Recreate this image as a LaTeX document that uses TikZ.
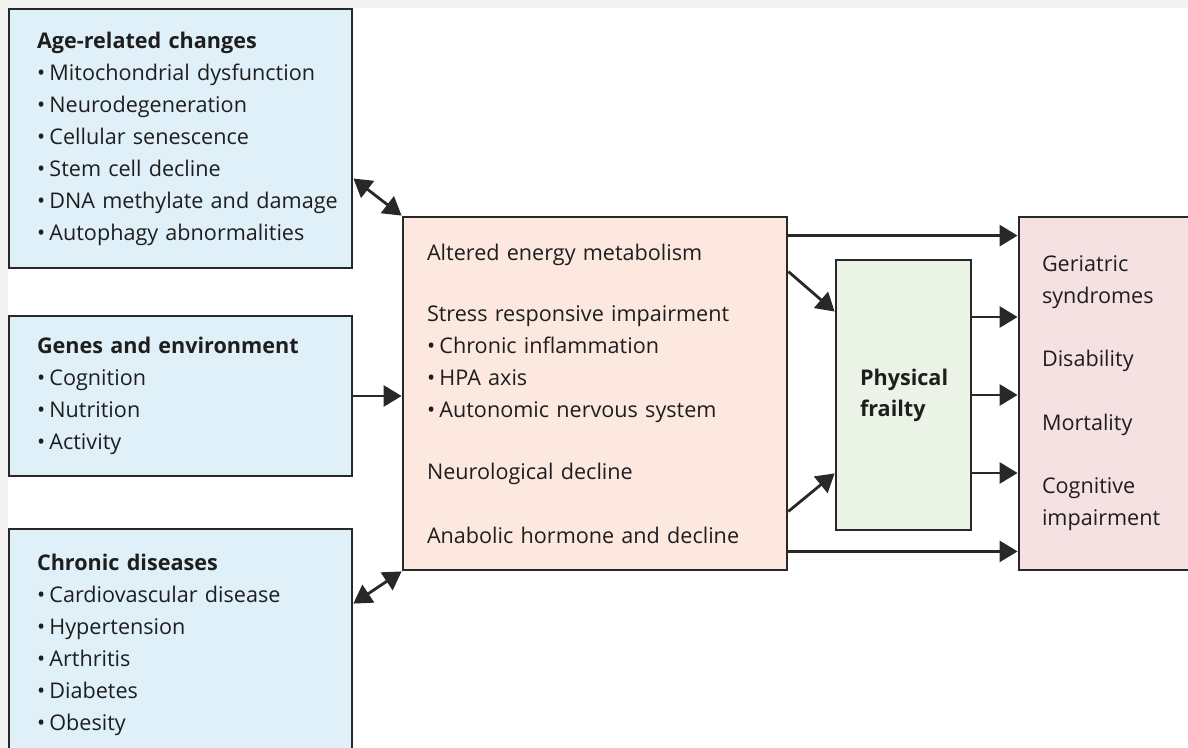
\documentclass[tikz,border=0pt]{standalone}
\usepackage{fontspec}
\setmainfont{Open Sans}
\usepackage{tikz}
\usetikzlibrary{arrows.meta}
\definecolor{bgGray}{RGB}{242,242,242}
\definecolor{lineGray}{RGB}{40,40,40}
\definecolor{textBlack}{RGB}{30,30,30}
\definecolor{causeBlue}{RGB}{223,240,248}
\definecolor{mechPeach}{RGB}{252,232,222}
\definecolor{frailGreen}{RGB}{234,243,230}
\definecolor{outcomePink}{RGB}{245,224,226}
\newcommand{\itm}{\textbullet\hspace{0.2em}}
\tikzset{
     boxNode/.style =
        { draw=lineGray
        , line width=1.4pt
        , align=left
        , inner ysep=0pt
        , text=textBlack
        , font=\fontsize{10.8}{16}\selectfont
        },
     causeNode/.style =
        { boxNode
        , fill=causeBlue
        , inner xsep=7pt
        , text width=157.5pt
        , minimum width=171.5pt
        , execute at begin node={\leftskip=7pt}
        }
}

\begin{document}
\begin{tikzpicture}
            [ x=0.5pt
            , y=-0.5pt
            , >={Triangle[length=9pt,width=10.5pt]}
            , line width=1.4pt
            , draw=lineGray
            ]
            \clip (0,0) rectangle (1188,748);
            \fill[bgGray] (0,0) rectangle (1188,748);
            \fill[white] (8,8) rectangle (1188,748);

            % causes
            \node[causeNode, minimum height=129.5pt] (age) at (180.5,138.5)
                {\textbf{Age-related changes}\\
                 \itm Mitochondrial dysfunction\\
                 \itm Neurodegeneration\\
                 \itm Cellular senescence\\
                 \itm Stem cell decline\\
                 \itm DNA methylate and damage\\
                 \itm Autophagy abnormalities};
            \node[causeNode, minimum height=80pt] (genes) at (180.5,396)
                {\textbf{Genes and environment}\\
                 \itm Cognition\\
                 \itm Nutrition\\
                 \itm Activity};
            \node[causeNode, minimum height=116pt] (chronic) at (180.5,645)
                {\textbf{Chronic diseases}\\
                 \itm Cardiovascular disease\\
                 \itm Hypertension\\
                 \itm Arthritis\\
                 \itm Diabetes\\
                 \itm Obesity};

            % mechanisms
            \node[boxNode, fill=mechPeach, inner xsep=12pt, text width=168pt,
                  minimum height=176.5pt] (mech) at (595,393.5)
                {Altered energy metabolism\\[14.5pt]
                 Stress responsive impairment\\
                 \itm Chronic inflammation\\
                 \itm HPA axis\\
                 \itm Autonomic nervous system\\[15pt]
                 Neurological decline\\[16pt]
                 Anabolic hormone and decline};

            \node[boxNode, fill=frailGreen, inner xsep=12pt, text width=43.5pt,
                  minimum height=135pt, font=\fontsize{10.8}{15.5}\selectfont\bfseries]
                  (frailty) at (903.5,395)
                {Physical\\frailty};

            % outcomes
            \node[boxNode, fill=outcomePink, inner xsep=11.5pt, text width=67.5pt,
                  minimum height=176.5pt] (outcome) at (1109.5,393.5)
                {Geriatric\\syndromes\\[15.5pt]
                 Disability\\[16pt]
                 Mortality\\[15.5pt]
                 Cognitive\\impairment};

            \draw[<->] ([yshift=-20pt]age.east) -- (mech.north west);
            \draw[->] (genes.east) -- (genes.east -| mech.west);
            \draw[<->] ([yshift=-38pt]chronic.north east) -- (mech.south west);

            \draw[->] ([yshift=-10pt]mech.north east) -- ([yshift=-10pt]mech.north east -| outcome.west);
            \draw[->] ([yshift=-28pt]mech.north east) -- ([yshift=-26.5pt]frailty.north west);
            \draw[->] ([yshift=30pt]mech.south east) -- ([yshift=29pt]frailty.south west);
            \draw[->] ([yshift=10pt]mech.south east) -- ([yshift=10pt]mech.south east -| outcome.west);

            \draw[->] ([yshift=39pt]frailty.east) -- ([yshift=39pt]frailty.east -| outcome.west);
            \draw[->] (frailty.east) -- (frailty.east -| outcome.west);
            \draw[->] ([yshift=-39pt]frailty.east) -- ([yshift=-39pt]frailty.east -| outcome.west);
        \end{tikzpicture}
\end{document}
